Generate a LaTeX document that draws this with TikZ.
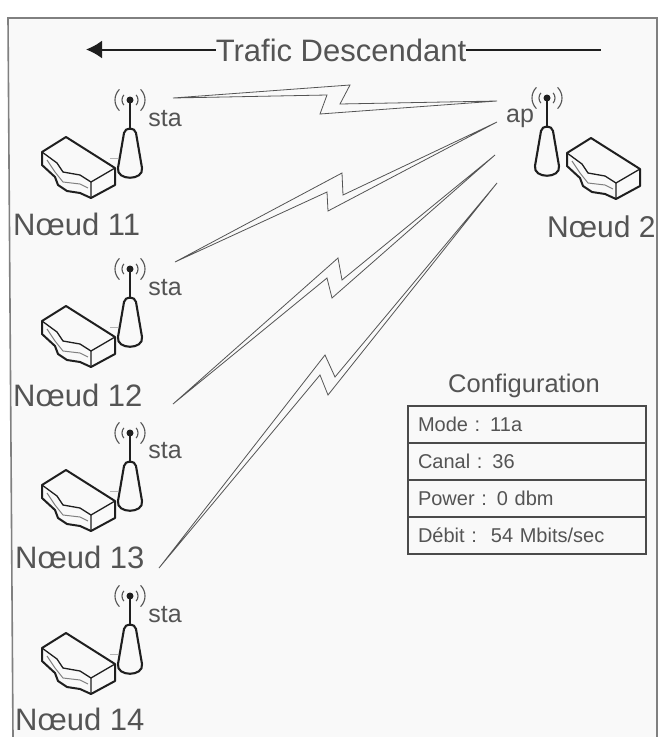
\documentclass[tikz,border=0pt]{standalone}
\usepackage{fontspec}
\setmainfont{Liberation Sans}
\usepackage{xcolor}
\usetikzlibrary{arrows.meta,positioning}
\definecolor{cadre}{gray}{0.50}
\definecolor{fond}{gray}{0.975}
\definecolor{encre}{gray}{0.33}
\definecolor{trait}{gray}{0.12}
\tikzset{
  eclair/.style={draw=encre,line width=0.8pt,line join=miter},
  fleche/.style={trait,line width=2pt},
  nomnoeud/.style={encre,anchor=base west,inner sep=0pt,font=\fontsize{31}{33}\selectfont},
  role/.style={encre,inner sep=0pt,font=\fontsize{25}{27}\selectfont},
  cfgligne/.style={draw=trait!80,line width=1.4pt,outer sep=0pt,minimum width=238pt,minimum height=37pt,
    text width=218pt,align=left,text=encre,font=\fontsize{20}{22}\selectfont},
  pics/antenne/.style={code={
    \draw[trait,line width=2.6pt] (0,0) -- (0,30);
    \fill[trait] (0,0) circle (3.5);
    \draw[encre,line width=1.1pt] (-40:8) arc[start angle=-40,end angle=40,radius=8];
    \draw[encre,line width=1.1pt] (-45:15) arc[start angle=-45,end angle=45,radius=15];
    \draw[encre,line width=1.1pt] (140:8) arc[start angle=140,end angle=220,radius=8];
    \draw[encre,line width=1.1pt] (135:15) arc[start angle=135,end angle=225,radius=15];
    \draw[trait,line width=2.1pt,line join=round] (-6,33) -- (-12,68)
      .. controls (-14,81) and (14,81) .. (12,68) -- (6,33)
      .. controls (5,27) and (-5,27) .. cycle;
  }},
  pics/routeur/.style={code={
    \draw[trait,line width=2pt,line join=round] (-64,37) -- (-88,52) -- (-88,65) -- (-75,77) -- (-72,85)
      -- (-63,91) -- (-50,93) -- (-39,98) -- (-15,85) -- (-15,68) -- cycle;
    \draw[trait,line width=1.3pt,line join=round] (-88,52) -- (-73,63) -- (-67,72) -- (-50,75) -- (-39,82)
      -- (-39,98) (-39,82) -- (-15,68);
    \draw[cadre,line width=1pt] (-83,60) -- (-75,72) -- (-67,82) -- (-50,84) -- (-42,88);
  }},
  pics/cable/.style={code={
    \draw[cadre!60,line width=0.8pt] (-20,58) -- (-12,58);
  }},
}
\begin{document}
\begin{tikzpicture}[x=1pt,y=-1pt]
  \useasboundingbox (0,0) rectangle (659,737);
  % cadre
  \fill[fond] (13,737) -- (8,18) -- (657,18) -- (657,737) -- cycle;
  \draw[cadre,line width=1.6pt] (13,737) -- (8,18) -- (657,18) -- (657,737);
  % titre
  \node[encre,inner sep=0pt,font=\fontsize{31}{33}\selectfont] (titre) at (341,50) {Trafic Descendant};
  \coordinate (flecheG) at (86,49.5);
  \coordinate (flecheD) at (601,49.5);
  \draw[fleche,-{Latex[length=16pt,width=18pt]}] (titre.west|-flecheG) -- (flecheG);
  \draw[fleche] (titre.east|-flecheD) -- (flecheD);
  % noeud 11
  \pic at (130,100) {antenne};
  \pic at (130,100) {routeur};
  \pic at (130,100) {cable};
  \node[role] (sta11) at (165,119) {sta};
  \node[nomnoeud] (noeud11) at (13,235) {Nœud 11};
  % noeud 12
  \pic at (130,269) {antenne};
  \pic at (130,269) {routeur};
  \pic at (130,269) {cable};
  \node[role] (sta12) at (165,288) {sta};
  \node[nomnoeud] (noeud12) at (13,406) {Nœud 12};
  % noeud 13
  \pic at (130,433) {antenne};
  \pic at (130,433) {routeur};
  \pic at (130,433) {cable};
  \node[role] (sta13) at (165,451) {sta};
  \node[nomnoeud] (noeud13) at (15,568) {Nœud 13};
  % noeud 14
  \pic at (130,596) {antenne};
  \pic at (130,596) {routeur};
  \pic at (130,596) {cable};
  \node[role] (sta14) at (165,615) {sta};
  \node[nomnoeud] (noeud14) at (15,730) {Nœud 14};
  % noeud 2
  \pic at (547,98) {antenne};
  \pic at (655,101) {routeur};
  \node[role] (ap) at (520,118) {ap};
  \node[nomnoeud,font=\fontsize{30}{32}\selectfont] (noeud2) at (547,237) {Nœud 2};
  % liaisons
  \coordinate (depart11) at (173,98);  \coordinate (arrivee11) at (497,101);
  \coordinate (depart12) at (175,262); \coordinate (arrivee12) at (497,122);
  \coordinate (depart13) at (173,404); \coordinate (arrivee13) at (495,155);
  \coordinate (depart14) at (159,568); \coordinate (arrivee14) at (497,183);
  \draw[eclair] (depart11) -- (350,85) -- (340,104) -- (arrivee11) -- (320,114) -- (327,95) -- cycle;
  \draw[eclair] (depart12) -- (342,173) -- (343,195) -- (arrivee12) -- (328,211) -- (327,192) -- cycle;
  \draw[eclair] (depart13) -- (338,258) -- (342,280) -- (arrivee13) -- (332,298) -- (327,278) -- cycle;
  \draw[eclair] (depart14) -- (325,355) -- (335,377) -- (arrivee14) -- (328,395) -- (320,375) -- cycle;
  % configuration
  \node[encre,inner sep=0pt,font=\fontsize{25.5}{28}\selectfont] (config) at (524,386) {Configuration};
  \node[cfgligne] (mode) at (527,424.5) {Mode : 11a};
  \node[cfgligne,below=0pt of mode] (canal) {Canal : 36};
  \node[cfgligne,below=0pt of canal] (power) {Power : 0 dbm};
  \node[cfgligne,below=0pt of power] (debit) {Débit :\hspace{0.2em} 54 Mbits/sec};
\end{tikzpicture}
\end{document}
